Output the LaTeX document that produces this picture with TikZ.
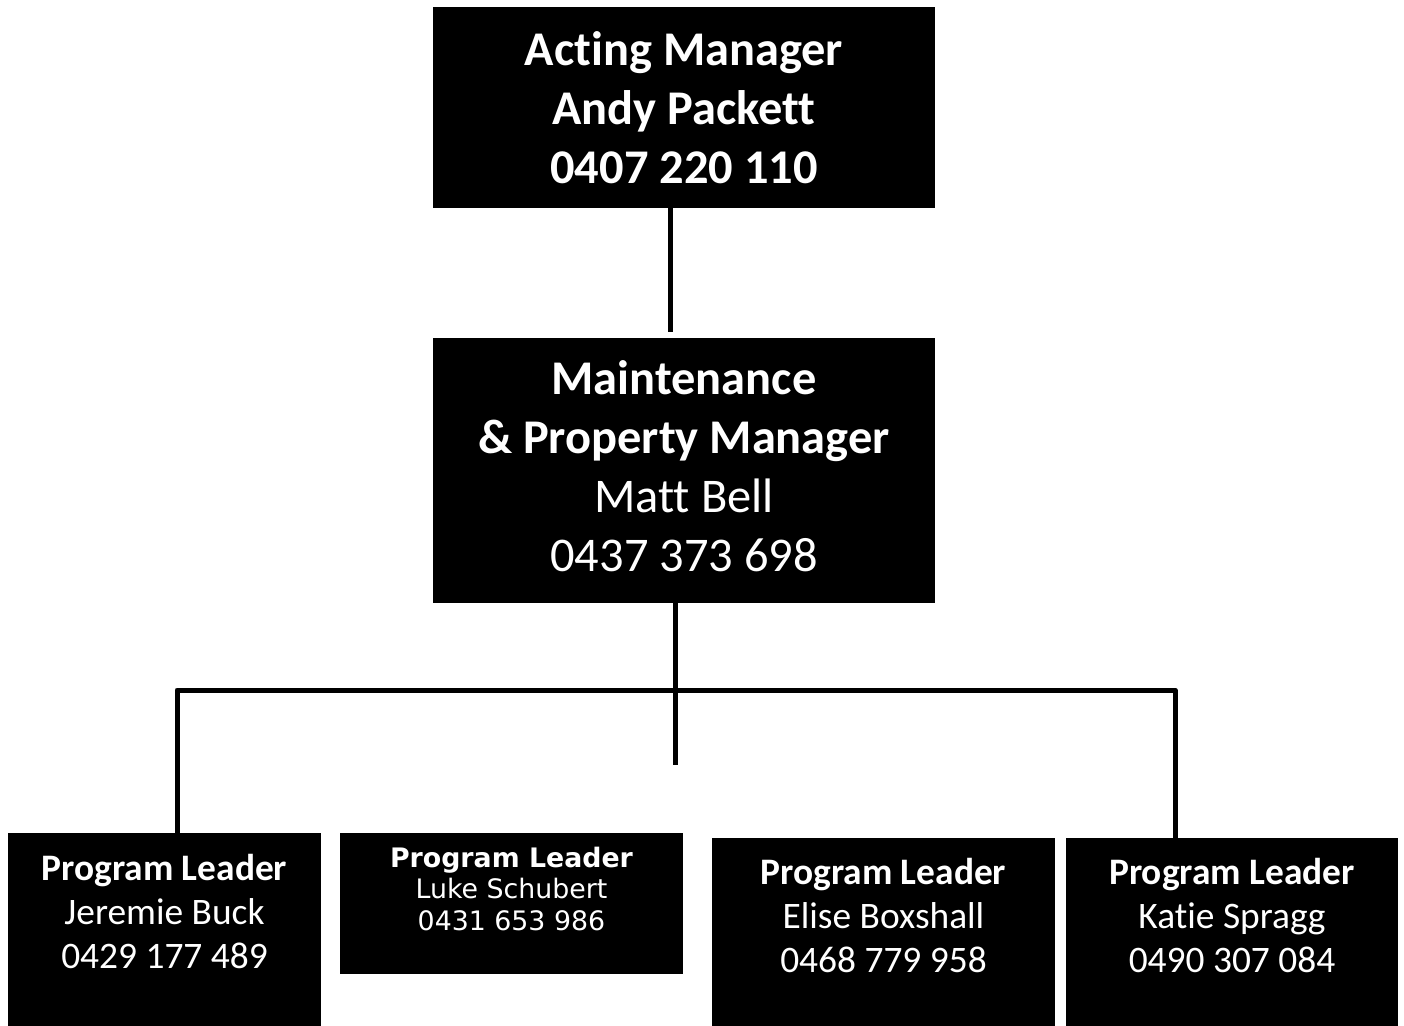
\documentclass[tikz,border=0pt]{standalone}
\usepackage{fontspec}
\setmainfont[Ligatures={NoCommon}]{Carlito}
\newfontfamily\lukefont{DejaVu Sans}
\usetikzlibrary{positioning}

\begin{document}
\begin{tikzpicture}[x=0.5pt, y=-0.5pt]
\tikzstyle{box}=[rectangle, fill=black, text=white, align=center, inner sep=0pt]
\tikzstyle{bigtext}=[font=\fontsize{24.2}{29.5}\selectfont]
\tikzstyle{smalltext}=[font=\fontsize{18.7}{22}\selectfont]
\tikzstyle{luketext}=[font=\lukefont\fontsize{13.4}{15.75}\selectfont]
\tikzstyle{link}=[line width=2.5pt, line join=round]

\useasboundingbox (0,0) rectangle (1404,1026);

\node (acting) [box, bigtext, minimum width=251pt, minimum height=100.5pt] at (684,107.5)
  {\textbf{Acting Manager}\\\textbf{Andy Packett}\\\textbf{0407 220 110}};
\node (maint) [box, bigtext, minimum width=251pt, minimum height=132.5pt, text depth=4pt] at (684,470.5)
  {\textbf{Maintenance}\\\textbf{\& Property Manager}\\Matt Bell\\0437 373 698};

\node (jeremie) [box, smalltext, minimum width=156.5pt, minimum height=96.5pt, text depth=18.5pt] at (164.5,929.5)
  {\textbf{Program Leader}\\Jeremie Buck\\0429 177 489};
\node (luke) [box, luketext, minimum width=171.5pt, minimum height=70.5pt, text depth=15pt] at (511.5,903.5)
  {\textbf{Program Leader}\\Luke Schubert\\0431 653 986};
\node (elise) [box, smalltext, minimum width=171.5pt, minimum height=94pt, text depth=17pt] at (883.5,932)
  {\textbf{Program Leader}\\Elise Boxshall\\0468 779 958};
\node (katie) [box, smalltext, minimum width=166pt, minimum height=94pt, text depth=17pt] at (1232,932)
  {\textbf{Program Leader}\\Katie Spragg\\0490 307 084};

\coordinate (busL) at (177,690);
\coordinate (busR) at (1175,690);
\coordinate (stub) at (675,765);

\draw [link] ([xshift=-7pt]acting.south) -- ([xshift=-7pt, yshift=3pt]acting.south |- maint.north);
\draw [link] (maint.south -| stub) -- (stub);
\draw [link] (busL |- jeremie.north) -- (busL) -- (busR) -- (busR |- katie.north);

\end{tikzpicture}
\end{document}
